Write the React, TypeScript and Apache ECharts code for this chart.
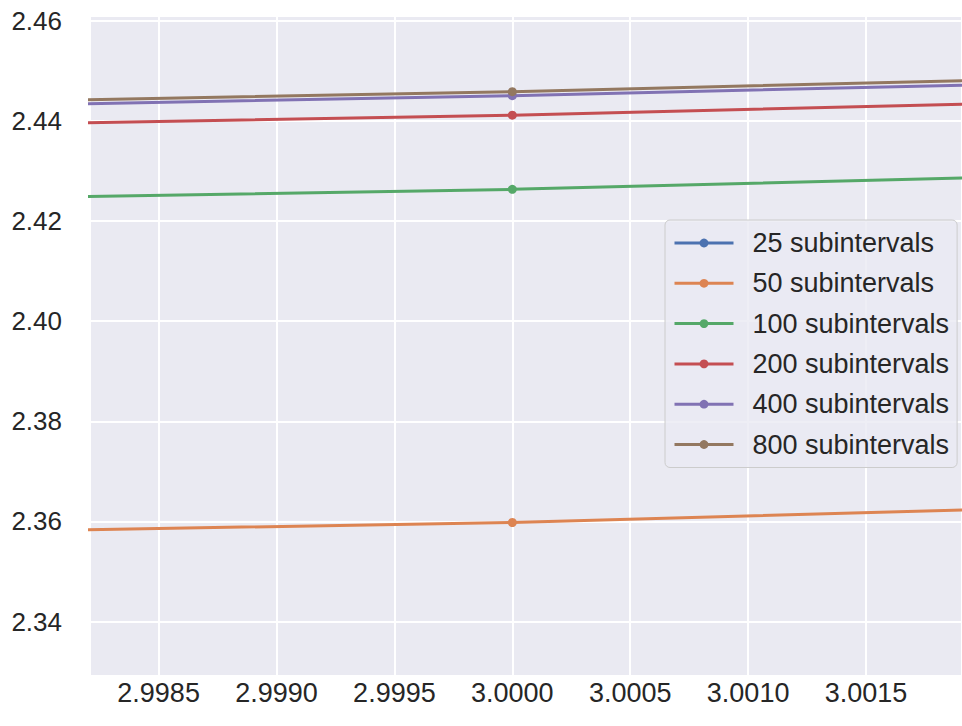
import React, { useEffect, useRef } from "react";
import * as echarts from "echarts";

const xValues = [2.998, 3.0, 3.002];
const seriesNames = [
  "25 subintervals",
  "50 subintervals",
  "100 subintervals",
  "200 subintervals",
  "400 subintervals",
  "800 subintervals",
];
const s25 = [2.095, 2.0966, 2.0989];
const s50 = [2.3582, 2.3598, 2.3624];
const s100 = [2.4247, 2.4263, 2.4287];
const s200 = [2.4394, 2.4411, 2.4434];
const s400 = [2.4432, 2.445, 2.4472];
const s800 = [2.444, 2.4458, 2.4481];
const seriesValues = [s25, s50, s100, s200, s400, s800];
const colors = ["#4C72B0", "#DD8452", "#55A868", "#C44E52", "#8172B3", "#937860"];

const X_MIN = 2.998209;
const X_MAX = 3.001907;
const Y_MIN = 2.32916;
const Y_MAX = 2.4609;

const FONT = "Liberation Sans, Arial, sans-serif";

export default function App() {
  const ref = useRef<HTMLDivElement>(null);
  useEffect(() => {
    if (!ref.current) return;
    const chart = echarts.init(ref.current, null, { renderer: "svg" });
    chart.setOption({
      animation: false,
      backgroundColor: "#ffffff",
      grid: {
        left: 90,
        right: 0,
        top: 16,
        bottom: 50,
        show: true,
        backgroundColor: "#EAEAF2",
        borderWidth: 0,
      },
      xAxis: {
        type: "value",
        min: X_MIN,
        max: X_MAX,
        minInterval: 0.0005,
        maxInterval: 0.0005,
        axisLine: { show: false },
        axisTick: { show: false },
        splitLine: { show: true, lineStyle: { color: "#ffffff", width: 2 } },
        axisLabel: {
          fontSize: 27,
          color: "#262626",
          fontFamily: FONT,
          margin: 3,
          showMinLabel: false,
          showMaxLabel: false,
          formatter: (v: number) => v.toFixed(4),
        },
      },
      yAxis: {
        type: "value",
        min: Y_MIN,
        max: Y_MAX,
        minInterval: 0.02,
        maxInterval: 0.02,
        axisLine: { show: false },
        axisTick: { show: false },
        splitLine: { show: true, lineStyle: { color: "#ffffff", width: 2 } },
        axisLabel: {
          fontSize: 26,
          color: "#262626",
          fontFamily: FONT,
          margin: 28,
          showMinLabel: false,
          showMaxLabel: false,
          formatter: (v: number) => v.toFixed(2),
        },
      },
      legend: {
        orient: "vertical",
        left: 665,
        top: 220,
        padding: [8, 8, 8, 8],
        itemWidth: 59,
        itemHeight: 11,
        itemGap: 10.3,
        backgroundColor: "rgba(234,234,242,0.8)",
        borderColor: "#cccccc",
        borderWidth: 1,
        borderRadius: 5,
        lineStyle: { width: 3 },
        textStyle: {
          fontSize: 27,
          color: "#262626",
          fontFamily: FONT,
          lineHeight: 30,
          padding: [0, 0, 0, 14],
        },
        data: seriesNames,
      },
      series: seriesNames.map((name, i) => ({
        name,
        type: "line",
        clip: true,
        data: xValues.map((x, j) => [x, seriesValues[i][j]]),
        symbol: "circle",
        symbolSize: 9,
        showSymbol: true,
        lineStyle: { color: colors[i], width: 3 },
        itemStyle: { color: colors[i] },
        emphasis: { disabled: true },
      })),
    });
    return () => chart.dispose();
  }, []);
  return (
    <div
      ref={ref}
      style={{ position: "absolute", left: 0, top: 0, width: 962, height: 726 }}
    />
  );
}
